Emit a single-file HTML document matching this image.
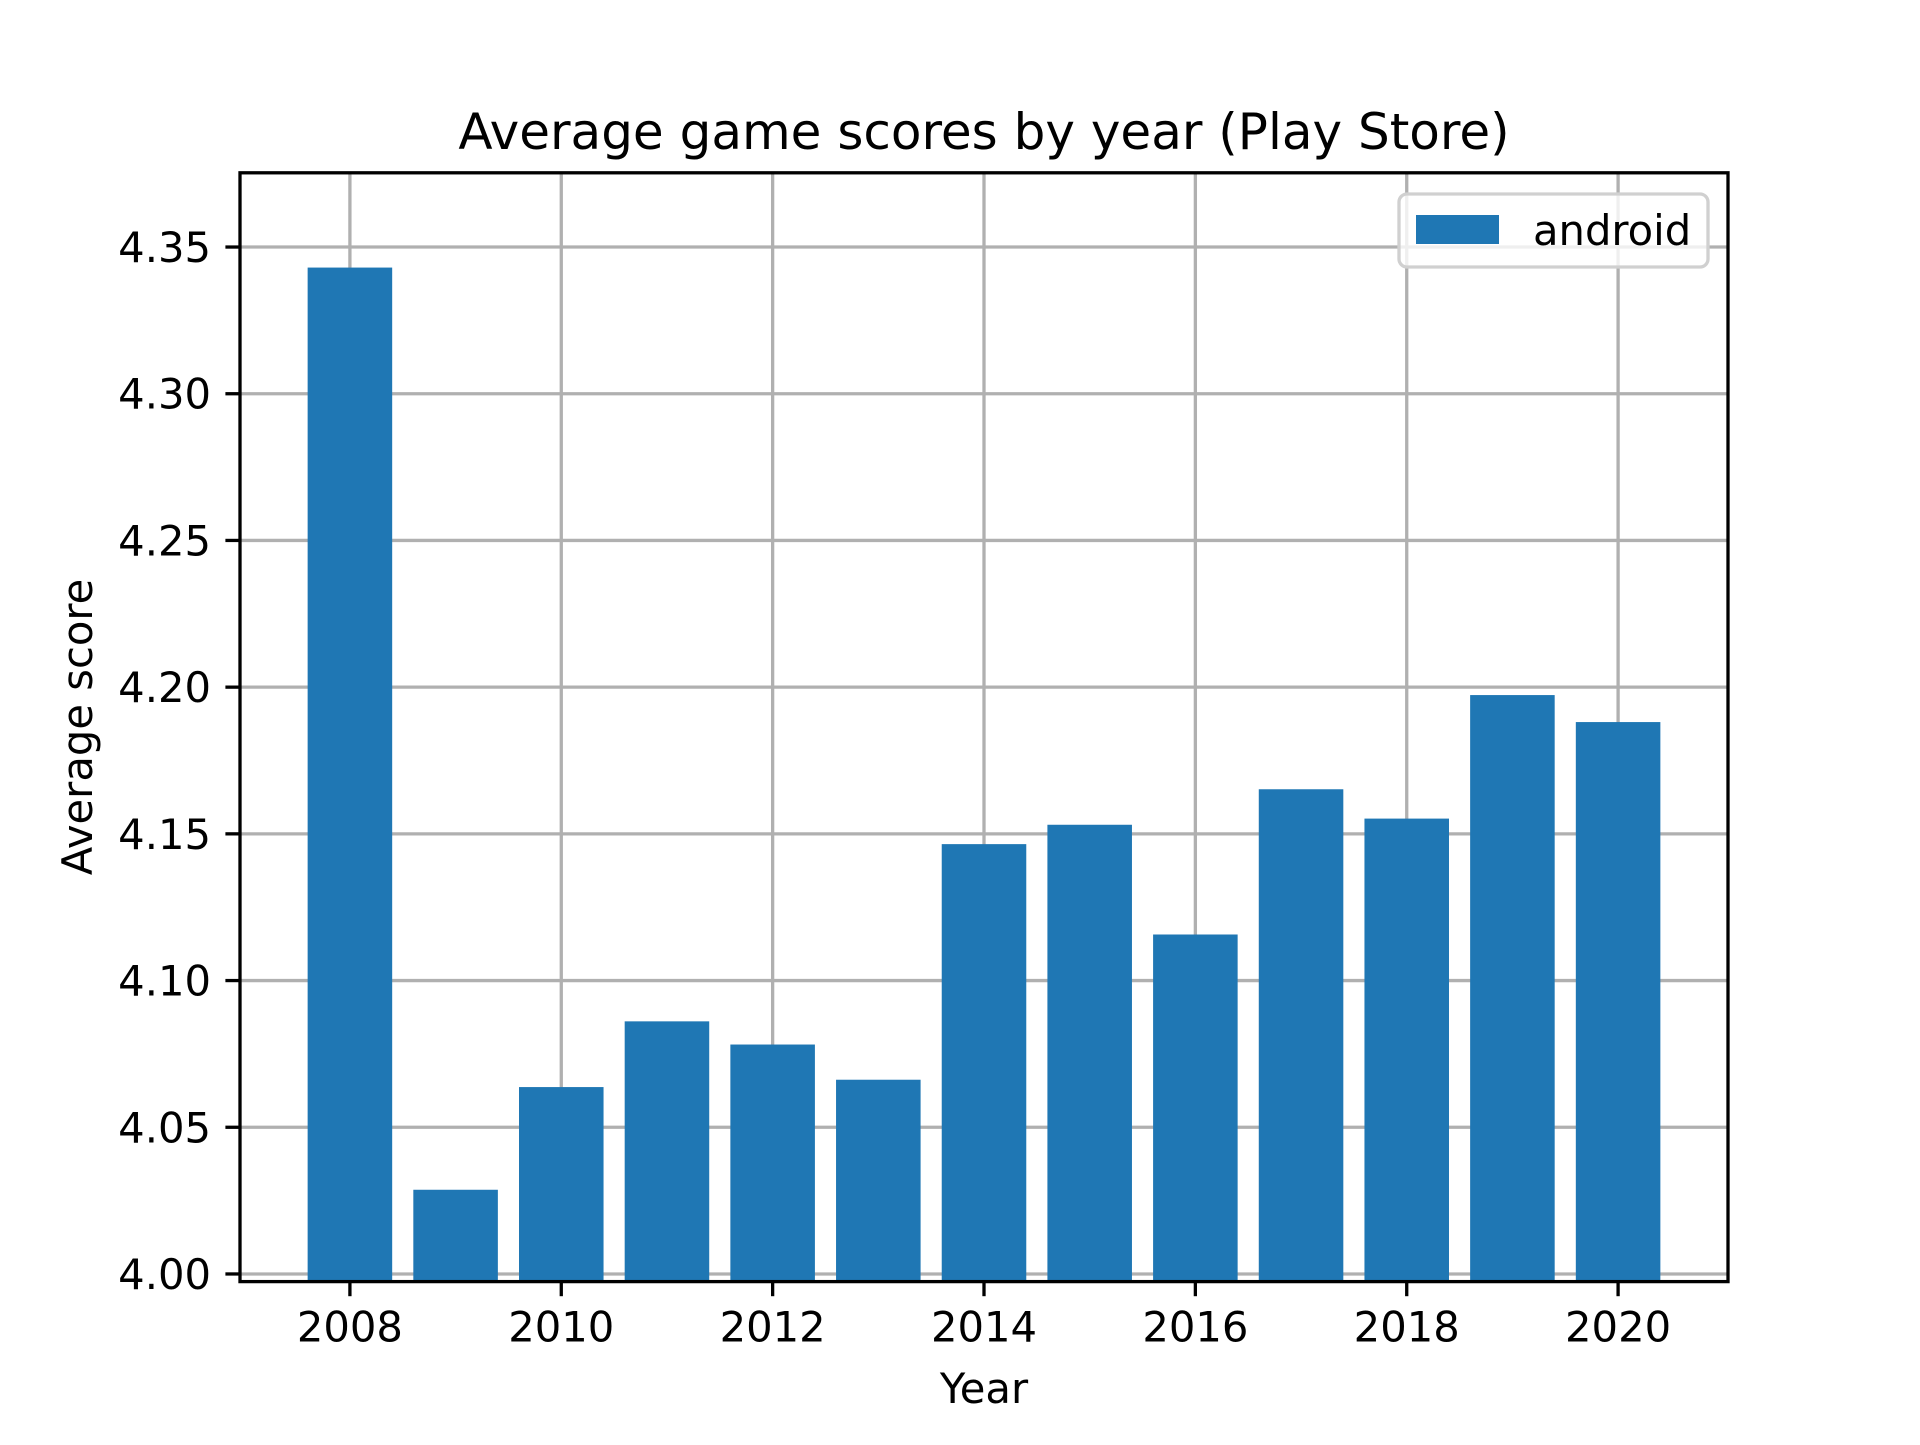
<!DOCTYPE html>
<html><head><meta charset="utf-8"><style>
html,body{margin:0;padding:0;background:#fff;}
svg text{font-family:"DejaVu Sans","Liberation Sans",sans-serif;fill:#000;}
</style></head><body>
<svg id="chart" width="1920" height="1440" xmlns="http://www.w3.org/2000/svg">
<rect width="1920" height="1440" fill="#fff"/>
<g id="grid"></g>
<g id="bars"></g>
<g id="axes"></g>
<text x="984" y="149" font-size="50" text-anchor="middle">Average game scores by year (Play Store)</text>
<text x="984" y="1403" font-size="41.7" text-anchor="middle">Year</text>
<text transform="translate(92,727) rotate(-90)" font-size="41.7" text-anchor="middle">Average score</text>
<g>
<rect x="1399" y="194" width="309" height="73" rx="8" fill="#fff" fill-opacity="0.8" stroke="#d0d0d0" stroke-width="3.3"/>
<rect x="1416" y="215" width="83" height="29" fill="#1f77b4"/>
<text x="1533" y="245" font-size="41.7">android</text>
</g>
</svg>
<script>
const years = [2008,2009,2010,2011,2012,2013,2014,2015,2016,2017,2018,2019,2020];
const scores = [4.343,4.0287,4.0637,4.0861,4.0782,4.0662,4.1465,4.1531,4.1157,4.1652,4.1552,4.1973,4.1881];
const yTicks = [4.00,4.05,4.10,4.15,4.20,4.25,4.30,4.35];
const xTicks = [2008,2010,2012,2014,2016,2018,2020];
const L=240,R=1728,T=172.8,B=1281.6;
const xMin=2006.96,xMax=2021.04,yMin=3.9974,yMax=4.3753;
const NS="http://www.w3.org/2000/svg";
function xs(v){return L+(v-xMin)/(xMax-xMin)*(R-L);}
function ys(v){return B-(v-yMin)/(yMax-yMin)*(B-T);}
function mk(tag,attrs,parent){const e=document.createElementNS(NS,tag);for(const k in attrs)e.setAttribute(k,attrs[k]);parent.appendChild(e);return e;}
const grid=document.getElementById('grid'),bars=document.getElementById('bars'),axes=document.getElementById('axes');
xTicks.forEach(t=>{const x=xs(t);
 const g=mk('line',{x1:x,x2:x,y1:T,y2:B,stroke:'#b0b0b0','stroke-width':3.3},grid);
 
 
 const tk=mk('line',{x1:x,x2:x,y1:B,y2:B+14.6,stroke:'#000','stroke-width':3.3},axes);
 
 
 const tx=mk('text',{x:x,y:B+60,'font-size':41.7,'text-anchor':'middle'},axes);tx.textContent=t;
 
 
});
yTicks.forEach(t=>{const y=ys(t);
 const g=mk('line',{x1:L,x2:R,y1:y,y2:y,stroke:'#b0b0b0','stroke-width':3.3},grid);
 
 
 const tk=mk('line',{x1:L-14.6,x2:L,y1:y,y2:y,stroke:'#000','stroke-width':3.3},axes);
 
 
 const tx=mk('text',{x:L-29,y:y+15,'font-size':41.7,'text-anchor':'end'},axes);tx.textContent=t.toFixed(2);
 
 
});
years.forEach((yr,i)=>{const x0=xs(yr-0.4),x1=xs(yr+0.4),y=ys(scores[i]);
 const b=mk('rect',{x:x0,y:y,width:x1-x0,height:B-y,fill:'#1f77b4'},bars);
 
 
});
const fr=mk('rect',{x:L,y:T,width:R-L,height:B-T,fill:'none',stroke:'#000','stroke-width':3.3},axes);


</script>
</body></html>
